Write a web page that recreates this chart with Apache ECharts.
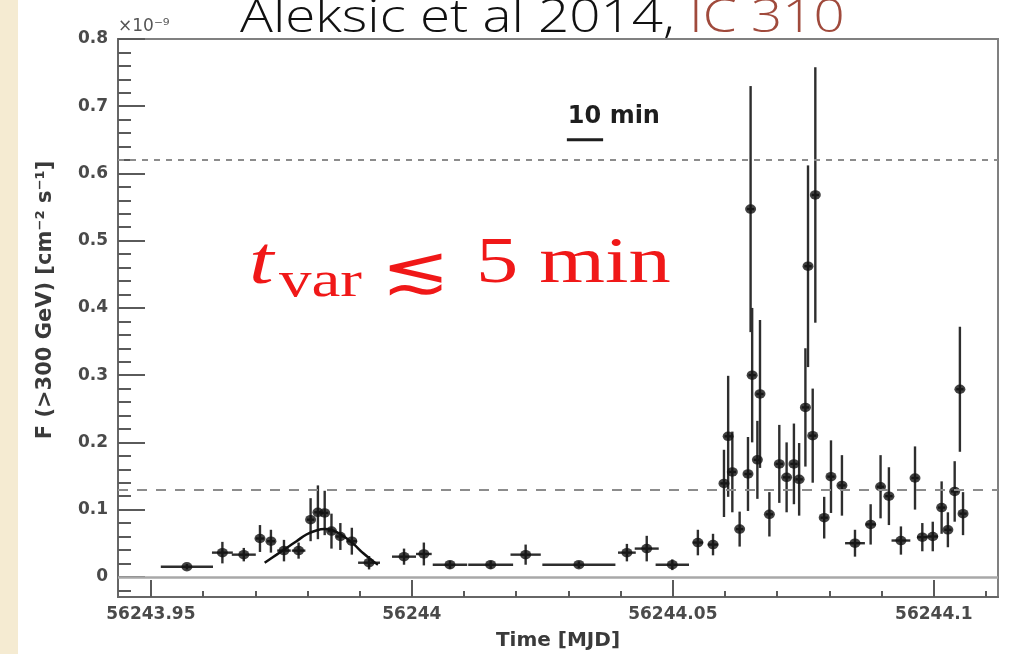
<!DOCTYPE html>
<html>
<head>
<meta charset="utf-8">
<script src="https://cdn.jsdelivr.net/npm/echarts@6/dist/echarts.min.js"></script>
<style>
  html, body { margin: 0; padding: 0; background: #fff; }
  #chart { width: 1020px; height: 654px; }
</style>
</head>
<body>
<div id="chart"></div>
<script>
// IC 310 light curve (MAGIC, night of 12/13 Nov 2012), F(>300 GeV) in 1e-9 cm^-2 s^-1

// bin centres [MJD]
const times = [
  56243.9569, 56243.9637, 56243.9678, 56243.9709, 56243.9730, 56243.9755, 56243.9783, 56243.9806, 56243.9820, 56243.9833,
  56243.9846, 56243.9863, 56243.9885, 56243.9918, 56243.9985, 56244.0023, 56244.0073, 56244.0151, 56244.0218, 56244.0320,
  56244.0412, 56244.0450, 56244.0499, 56244.0548, 56244.0577, 56244.0598, 56244.0606, 56244.0614, 56244.0628, 56244.0644,
  56244.0649, 56244.0652, 56244.0662, 56244.0667, 56244.0685, 56244.0704, 56244.0718, 56244.0732, 56244.0742, 56244.0754,
  56244.0759, 56244.0768, 56244.0773, 56244.0790, 56244.0803, 56244.0824, 56244.0849, 56244.0879, 56244.0898, 56244.0914,
  56244.0937, 56244.0964, 56244.0978, 56244.0998, 56244.1015, 56244.1027, 56244.1040, 56244.1050, 56244.1056
];
// bin half-widths [d]
const timeErrs = [
  0.0050, 0.0020, 0.0023, 0.0008, 0.0008, 0.0013, 0.0013, 0.0007, 0.0007, 0.0007,
  0.0007, 0.0008, 0.0010, 0.0021, 0.0023, 0.0015, 0.0033, 0.0043, 0.0029, 0.0070,
  0.0017, 0.0023, 0.0032, 0.0010, 0.0010, 0.0007, 0.0007, 0.0007, 0.0007, 0.0007,
  0.0007, 0.0007, 0.0007, 0.0007, 0.0007, 0.0007, 0.0007, 0.0007, 0.0007, 0.0007,
  0.0007, 0.0007, 0.0007, 0.0007, 0.0007, 0.0007, 0.0019, 0.0010, 0.0007, 0.0007,
  0.0018, 0.0007, 0.0010, 0.0010, 0.0007, 0.0007, 0.0007, 0.0007, 0.0007
];
// integral flux above 300 GeV [1e-9 cm^-2 s^-1]
const fluxes = [
  0.015, 0.036, 0.033, 0.057, 0.053, 0.039, 0.039, 0.085, 0.096, 0.095,
  0.068, 0.060, 0.053, 0.021, 0.030, 0.034, 0.018, 0.018, 0.033, 0.018,
  0.036, 0.042, 0.018, 0.051, 0.048, 0.139, 0.209, 0.156, 0.071, 0.153,
  0.547, 0.300, 0.174, 0.272, 0.093, 0.168, 0.148, 0.168, 0.145, 0.252,
  0.462, 0.210, 0.568, 0.088, 0.149, 0.136, 0.050, 0.078, 0.134, 0.120,
  0.054, 0.147, 0.059, 0.060, 0.103, 0.070, 0.127, 0.279, 0.094
];
// 1-sigma flux errors
const fluxErrs = [
  0.004, 0.016, 0.010, 0.020, 0.017, 0.016, 0.012, 0.032, 0.040, 0.033,
  0.026, 0.020, 0.020, 0.010, 0.012, 0.017, 0.006, 0.006, 0.015, 0.005,
  0.013, 0.019, 0.008, 0.019, 0.016, 0.050, 0.090, 0.060, 0.026, 0.055,
  0.183, 0.100, 0.058, 0.110, 0.033, 0.058, 0.052, 0.060, 0.054, 0.088,
  0.150, 0.070, 0.190, 0.031, 0.054, 0.045, 0.020, 0.030, 0.047, 0.043,
  0.021, 0.047, 0.021, 0.022, 0.039, 0.026, 0.045, 0.093, 0.032
];

// fitted pre-burst bump
const fitTimes = [56243.9718, 56243.9741, 56243.9760, 56243.9779, 56243.9798, 56243.9817, 56243.9833,
                  56243.9849, 56243.9868, 56243.9888, 56243.9907, 56243.9926, 56243.9935];
const fitFlux  = [0.021, 0.033, 0.043, 0.053, 0.063, 0.069, 0.071,
                  0.069, 0.061, 0.049, 0.035, 0.023, 0.018];

// reference flux levels (dashed)
const highLevel = 0.624;
const lowLevel = 0.125;

// 10-minute scale bar
const scaleBarStart = 56244.0297;
const scaleBarFlux = 0.650;
const scaleBarLength = 10 / 1440;
const scaleBarLabel = '10 min';

// axes
const xRange = [56243.9437, 56244.1123];
const yRange = [-0.03, 0.8];
const xMajorTicks = [56243.95, 56244, 56244.05, 56244.1];
const xTickLabels = ['56243.95', '56244', '56244.05', '56244.1'];
const xMinorTicks = [56243.96, 56243.97, 56243.98, 56243.99, 56244.01, 56244.02, 56244.03, 56244.04,
                     56244.06, 56244.07, 56244.08, 56244.09, 56244.11];
const yMajorTicks = [0, 0.1, 0.2, 0.3, 0.4, 0.5, 0.6, 0.7, 0.8];
const yTickLabels = ['0', '0.1', '0.2', '0.3', '0.4', '0.5', '0.6', '0.7', '0.8'];
const yMinorTicks = [];
for (let k = -1; k <= 39; k++) {
  if (k % 5 !== 0) yMinorTicks.push(+(k * 0.02).toFixed(2));
}

const axisFont = { fontFamily: 'DejaVu Sans', fontWeight: 'bold', fontSize: 17, color: '#4a4a4a' };
const tickColor = '#5a5a5a';
const mathRed = '#f01818';

function labelFor(ticks, labels) {
  return function (v) {
    for (let i = 0; i < ticks.length; i++) {
      if (Math.abs(ticks[i] - v) < 1e-7) return labels[i];
    }
    return '';
  };
}

function renderErrorBar(params, api) {
  const t = api.value(0), f = api.value(1), dt = api.value(2), df = api.value(3);
  const left = api.coord([t - dt, f]), right = api.coord([t + dt, f]);
  const low = api.coord([t, f - df]), high = api.coord([t, f + df]);
  const style = { stroke: '#2e2e2e', lineWidth: 2.4 };
  return {
    type: 'group',
    children: [
      { type: 'line', shape: { x1: left[0], y1: left[1], x2: right[0], y2: right[1] }, style: style },
      { type: 'line', shape: { x1: low[0], y1: low[1], x2: high[0], y2: high[1] }, style: style }
    ]
  };
}

function renderScaleBar(params, api) {
  const t = api.value(0), f = api.value(1), len = api.value(2);
  const a = api.coord([t, f]), b = api.coord([t + len, f]);
  return {
    type: 'group',
    children: [
      { type: 'line', shape: { x1: a[0], y1: a[1], x2: b[0], y2: b[1] }, style: { stroke: '#1e1e1e', lineWidth: 3 } },
      { type: 'text', x: a[0] + 1, y: a[1] - 23,
        style: { text: scaleBarLabel, fontFamily: 'DejaVu Sans', fontWeight: 'bold', fontSize: 24,
                 fill: '#1e1e1e', align: 'left', verticalAlign: 'middle' } }
    ]
  };
}

const chart = echarts.init(document.getElementById('chart'), null, { renderer: 'canvas' });

chart.setOption({
  animation: false,
  backgroundColor: '#ffffff',
  grid: {
    left: 118, top: 39, right: 22, bottom: 57,
    show: true, borderColor: '#808080', borderWidth: 2, backgroundColor: '#ffffff',
    containLabel: false, outerBoundsMode: 'none'
  },
  xAxis: [
    {
      type: 'value', min: xRange[0], max: xRange[1], position: 'bottom',
      axisLine: { show: true, onZero: false, lineStyle: { color: '#666', width: 2 } },
      axisTick: { show: true, inside: true, length: 17, customValues: xMajorTicks, lineStyle: { color: tickColor, width: 2 } },
      axisLabel: Object.assign({ customValues: xMajorTicks, margin: 9, formatter: labelFor(xMajorTicks, xTickLabels) }, axisFont),
      splitLine: { show: false },
      name: 'Time [MJD]', nameLocation: 'middle', nameGap: 34,
      nameTextStyle: { fontFamily: 'DejaVu Sans', fontWeight: 'bold', fontSize: 20, color: '#3a3a3a' }
    },
    {
      type: 'value', min: xRange[0], max: xRange[1], position: 'bottom',
      axisLine: { show: false, onZero: false },
      axisTick: { show: true, inside: true, length: 6, customValues: xMinorTicks, lineStyle: { color: tickColor, width: 2 } },
      axisLabel: { show: false },
      splitLine: { show: false }
    }
  ],
  yAxis: [
    {
      type: 'value', min: yRange[0], max: yRange[1], position: 'left',
      axisLine: { show: true, onZero: false, lineStyle: { color: '#666', width: 2 } },
      axisTick: { show: true, inside: true, length: 27, customValues: yMajorTicks, lineStyle: { color: tickColor, width: 2 } },
      axisLabel: Object.assign({ customValues: yMajorTicks, margin: 10, formatter: labelFor(yMajorTicks, yTickLabels) }, axisFont),
      splitLine: { show: false }
    },
    {
      type: 'value', min: yRange[0], max: yRange[1], position: 'left',
      axisLine: { show: false, onZero: false },
      axisTick: { show: true, inside: true, length: 13, customValues: yMinorTicks, lineStyle: { color: tickColor, width: 2 } },
      axisLabel: { show: false },
      splitLine: { show: false }
    }
  ],
  series: [
    {
      name: 'errors', type: 'custom', xAxisIndex: 0, yAxisIndex: 0,
      dimensions: ['t', 'f', 'dt', 'df'], encode: { x: 0, y: 1 },
      data: times.map((t, i) => [t, fluxes[i], timeErrs[i], fluxErrs[i]]),
      renderItem: renderErrorBar, clip: true, z: 3, silent: true
    },
    {
      name: 'flux', type: 'scatter', xAxisIndex: 0, yAxisIndex: 0,
      data: times.map((t, i) => [t, fluxes[i]]),
      symbol: 'circle', symbolSize: [11, 9.5],
      itemStyle: { color: '#111' }, z: 4, silent: true,
      markLine: {
        silent: true, symbol: ['none', 'none'], label: { show: false },
        data: [
          { yAxis: highLevel, lineStyle: { type: [6, 6], color: '#8c8c8c', width: 2 } },
          { yAxis: lowLevel, lineStyle: { type: [10, 9], color: '#8c8c8c', width: 2.2 } },
          { yAxis: 0, lineStyle: { type: 'solid', color: '#a8a8a8', width: 2.5 } }
        ]
      }
    },
    {
      name: 'fit', type: 'line', xAxisIndex: 0, yAxisIndex: 0,
      data: fitTimes.map((t, i) => [t, fitFlux[i]]),
      smooth: 0.4, showSymbol: false, symbol: 'none',
      lineStyle: { color: '#111', width: 2.5 }, z: 5, silent: true
    },
    {
      name: 'scale', type: 'custom', xAxisIndex: 0, yAxisIndex: 0,
      dimensions: ['t', 'f', 'len'], encode: { x: 0, y: 1 },
      data: [[scaleBarStart, scaleBarFlux, scaleBarLength]],
      renderItem: renderScaleBar, z: 5, silent: true
    }
  ],
  graphic: [
    { type: 'rect', left: 0, top: 0, shape: { width: 18, height: 654 }, style: { fill: '#f5ebd2' }, z: 0 },
    {
      type: 'text', x: 240, y: 19, scaleX: 1.19, z: 10,
      style: {
        text: '{a|Aleksic et al 2014, }{b|IC 310}',
        align: 'left', verticalAlign: 'middle',
        rich: {
          a: { fontFamily: 'Open Sans', fontWeight: 300, fontSize: 46, fill: '#111' },
          b: { fontFamily: 'Open Sans', fontWeight: 300, fontSize: 46, fill: '#a04a3c' }
        }
      }
    },
    {
      type: 'text', x: 118, y: 27, z: 10,
      style: { text: '×10⁻⁹', fontFamily: 'DejaVu Sans', fontSize: 17, fill: '#555', align: 'left', verticalAlign: 'middle' }
    },
    {
      type: 'text', x: 46, y: 300, rotation: Math.PI / 2, z: 10,
      style: { text: 'F (>300 GeV) [cm⁻² s⁻¹]', fontFamily: 'DejaVu Sans', fontWeight: 'bold', fontSize: 21,
               fill: '#3a3a3a', align: 'center', verticalAlign: 'middle' }
    },
    {
      type: 'text', x: 249, y: 265, scaleX: 1.3, z: 10,
      style: { text: 't', fontFamily: 'Liberation Serif', fontStyle: 'italic', fontSize: 68, fill: mathRed,
               align: 'left', verticalAlign: 'middle' }
    },
    {
      type: 'text', x: 279, y: 283, scaleX: 1.3, z: 10,
      style: { text: 'var', fontFamily: 'Liberation Serif', fontSize: 50, fill: mathRed,
               align: 'left', verticalAlign: 'middle' }
    },
    {
      type: 'text', x: 381, y: 275, scaleX: 1.25, z: 10,
      style: { text: '≲', fontFamily: 'DejaVu Serif', fontSize: 66, fill: mathRed,
               align: 'left', verticalAlign: 'middle' }
    },
    {
      type: 'text', x: 476, y: 265, scaleX: 1.28, z: 10,
      style: { text: '5 min', fontFamily: 'Liberation Serif', fontSize: 66, fill: mathRed,
               align: 'left', verticalAlign: 'middle' }
    }
  ]
});
</script>
</body>
</html>
